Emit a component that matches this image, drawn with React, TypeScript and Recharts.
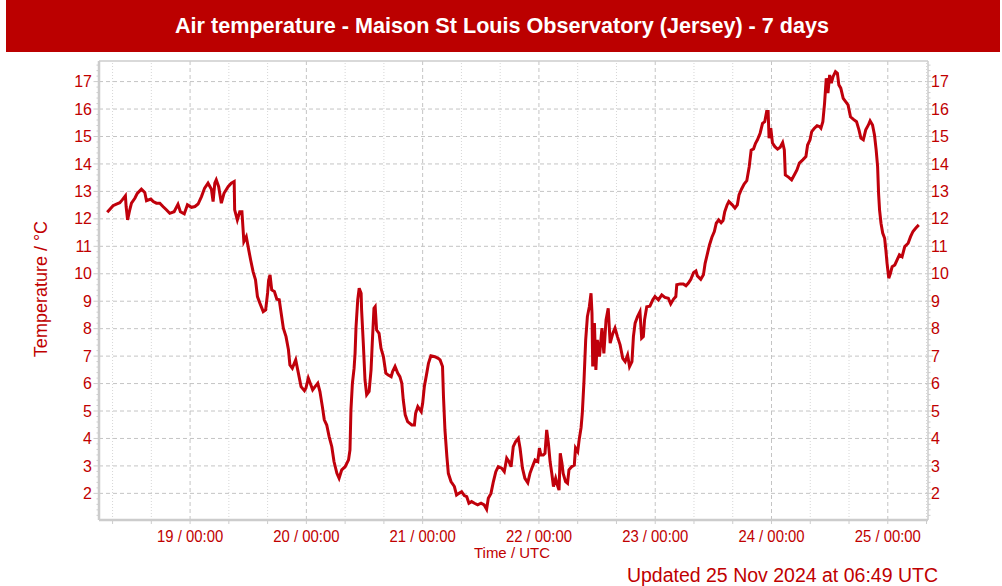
import { LineChart, Line, XAxis, YAxis, ReferenceLine } from 'recharts';

// hours since 18 Nov 2024 00:00 UTC, air temperature °C
const day18: [number, number][] = [
  [6.9, 12.24], [8.1, 12.48], [8.8, 12.54], [9.5, 12.59], [10.0, 12.69], [10.65, 12.84],
  [10.8, 12.45], [11.1, 11.96], [11.55, 12.33], [11.9, 12.57], [12.6, 12.75], [13.1, 12.93],
  [13.95, 13.08], [14.65, 12.96], [15.0, 12.66], [15.9, 12.72], [16.4, 12.63], [17.05, 12.57],
  [17.75, 12.57], [18.4, 12.45], [19.1, 12.33], [19.8, 12.2], [20.7, 12.26], [21.5, 12.53],
  [22.0, 12.26], [22.8, 12.18], [23.45, 12.51],
];
const day19: [number, number][] = [
  [24.3, 12.42], [25.0, 12.45], [25.65, 12.54], [26.35, 12.81], [27.0, 13.12], [27.7, 13.3],
  [28.4, 13.08], [28.75, 12.63], [29.1, 13.3], [29.4, 13.42], [29.9, 13.17], [30.45, 12.57],
  [31.0, 12.93], [31.85, 13.17], [32.5, 13.3], [33.1, 13.36], [33.2, 12.33], [33.75, 11.96],
  [34.25, 12.26], [34.7, 12.26], [35.1, 11.17], [35.6, 11.35], [36.1, 10.87], [36.5, 10.5],
  [37.0, 10.08], [37.5, 9.78], [37.9, 9.17], [38.4, 8.93], [39.1, 8.62], [39.6, 8.68],
  [40.0, 9.3], [40.2, 9.75], [40.5, 9.96], [40.85, 9.41], [41.4, 9.35], [41.9, 9.07],
  [42.4, 9.05], [42.8, 8.56], [43.25, 8.02], [43.8, 7.71], [44.3, 7.23], [44.6, 6.68],
  [45.1, 6.56], [45.8, 6.86], [46.35, 6.38], [46.9, 5.89], [47.6, 5.74], [47.9, 5.83],
];
const day20: [number, number][] = [
  [48.4, 6.2], [48.8, 6.01], [49.3, 5.77], [49.8, 5.89], [50.35, 6.01], [50.8, 5.71],
  [51.3, 5.16], [51.7, 4.68], [52.2, 4.49], [52.7, 4.07], [53.25, 3.7], [53.7, 3.16],
  [54.3, 2.73], [54.75, 2.55], [55.3, 2.86], [56.0, 2.97], [56.7, 3.22], [57.0, 3.58],
  [57.2, 5.04], [57.5, 6.01], [57.85, 6.56], [58.05, 7.1], [58.25, 8.07], [58.6, 9.05],
  [58.9, 9.47], [59.3, 9.29], [59.4, 8.68], [59.75, 7.47], [60.1, 6.13], [60.45, 5.59],
  [60.95, 5.71], [61.35, 6.5], [61.6, 7.47], [61.95, 8.74], [62.2, 8.8], [62.5, 7.95],
  [63.0, 7.83], [63.4, 7.29], [63.9, 6.98], [64.4, 6.38], [64.9, 6.31], [65.5, 6.25],
  [65.8, 6.44], [66.3, 6.62], [66.85, 6.38], [67.3, 6.25], [67.7, 6.01], [68.0, 5.4],
  [68.4, 4.86], [68.9, 4.61], [69.75, 4.49], [70.3, 4.49], [70.55, 4.92], [71.0, 5.16],
  [71.7, 4.98],
];
const day21: [number, number][] = [
  [72.0, 5.28], [72.35, 5.89], [72.85, 6.38], [73.2, 6.74], [73.7, 7.01], [74.5, 6.98],
  [75.2, 6.92], [75.6, 6.86], [76.1, 6.62], [76.3, 5.52], [76.6, 4.31], [77.0, 3.34],
  [77.3, 2.73], [77.85, 2.43], [78.55, 2.25], [79.0, 1.94], [79.5, 2.0], [80.05, 2.06],
  [80.6, 1.92], [81.1, 1.88], [81.55, 1.64], [82.1, 1.7], [82.7, 1.64], [83.35, 1.58],
  [84.05, 1.64], [84.7, 1.58], [85.2, 1.42], [85.55, 1.82], [86.1, 2.0], [86.6, 2.43],
  [87.1, 2.79], [87.6, 2.97], [88.3, 2.92], [88.85, 2.79], [89.35, 3.28], [89.8, 3.16],
  [90.25, 2.97], [90.7, 3.7], [91.2, 3.89], [91.75, 4.01], [92.1, 3.65], [92.6, 2.92],
  [93.1, 2.55], [93.7, 2.39], [94.15, 2.73], [94.65, 2.97], [95.2, 3.22], [95.75, 3.16],
];
const day22: [number, number][] = [
  [96.1, 3.65], [96.4, 3.4], [96.9, 3.4], [97.25, 3.46], [97.6, 4.31], [97.95, 3.83],
  [98.3, 3.16], [98.65, 2.73], [99.0, 2.25], [99.45, 2.55], [99.9, 2.25], [100.15, 2.12],
  [100.4, 3.46], [100.75, 3.1], [101.0, 2.73], [101.5, 2.43], [101.9, 2.37], [102.2, 2.86],
  [102.75, 2.97], [103.3, 3.03], [103.55, 3.65], [104.0, 3.52], [104.3, 3.95], [104.7, 4.4],
  [104.95, 4.92], [105.3, 6.1], [105.65, 7.59], [106.0, 8.44], [106.4, 8.8], [106.75, 9.29],
  [106.95, 8.56], [107.1, 6.62], [107.45, 8.2], [107.75, 6.5], [108.05, 7.59], [108.5, 6.98],
  [109.0, 8.02], [109.4, 7.1], [109.85, 8.32], [110.3, 8.74], [110.7, 7.47], [111.25, 7.83],
  [111.7, 8.02], [112.2, 7.71], [112.75, 7.41], [113.3, 6.92], [113.8, 6.8], [114.3, 7.04],
  [114.7, 6.62], [115.2, 6.8], [115.5, 7.71], [115.85, 8.2], [116.35, 8.44], [116.85, 8.62],
  [117.2, 7.65], [117.55, 7.71], [117.8, 8.32], [118.25, 8.8], [118.9, 8.82], [119.5, 9.05],
  [119.95, 9.17],
];
const day23: [number, number][] = [
  [120.65, 9.05], [121.35, 9.23], [122.0, 9.14], [122.7, 9.11], [123.2, 8.9], [123.75, 9.07],
  [124.25, 9.17], [124.45, 9.6], [125.15, 9.63], [125.8, 9.63], [126.35, 9.56], [126.85, 9.66],
  [127.35, 9.8], [127.9, 10.04], [128.4, 10.1], [128.7, 9.92], [129.4, 9.8], [129.95, 9.96],
  [130.3, 10.38], [130.8, 10.75], [131.2, 11.05], [131.7, 11.33], [132.2, 11.54], [132.6, 11.84],
  [133.1, 11.96], [133.6, 11.86], [134.0, 11.94], [134.35, 12.26], [134.85, 12.51], [135.2, 12.63],
  [135.9, 12.51], [136.45, 12.39], [136.95, 12.51], [137.3, 12.87], [137.8, 13.08], [138.35, 13.27],
  [138.9, 13.39], [139.4, 13.9], [139.8, 14.5], [140.3, 14.55], [140.7, 14.75], [141.1, 14.88],
  [141.65, 15.12], [142.15, 15.48], [142.6, 15.54], [143.0, 15.91], [143.3, 15.91], [143.5, 14.94],
  [143.85, 15.3],
];
const day24: [number, number][] = [
  [144.2, 14.76], [144.7, 14.63], [145.25, 14.54], [145.8, 14.61], [146.3, 14.78], [146.65, 14.51],
  [146.85, 13.6], [147.5, 13.52], [148.15, 13.42], [148.7, 13.6], [149.25, 13.78], [149.75, 14.03],
  [150.45, 14.15], [151.1, 14.27], [151.45, 14.69], [151.95, 14.88], [152.3, 15.18], [152.85, 15.3],
  [153.4, 15.39], [153.9, 15.36], [154.2, 15.3], [154.6, 15.54], [154.95, 16.21], [155.3, 17.12],
  [155.65, 16.58], [156.0, 17.24], [156.35, 16.94], [156.7, 17.18], [157.2, 17.36], [157.6, 17.3],
  [157.9, 16.88], [158.3, 16.76], [158.8, 16.39], [159.3, 16.27], [159.8, 16.15], [160.3, 15.72],
  [160.85, 15.63], [161.55, 15.54], [162.05, 15.24], [162.45, 14.94], [162.95, 14.88], [163.45, 15.24],
  [164.0, 15.42], [164.35, 15.57], [164.85, 15.42], [165.25, 15.06], [165.6, 14.51], [165.9, 13.9],
  [166.1, 12.93], [166.3, 12.33], [166.6, 11.84], [166.95, 11.48], [167.35, 11.29], [167.6, 10.87],
  [167.85, 10.38],
];
const day25: [number, number][] = [
  [168.2, 9.84], [168.55, 10.02], [168.9, 10.26], [169.45, 10.32], [169.9, 10.5], [170.4, 10.69],
  [170.95, 10.62], [171.5, 10.99], [172.2, 11.11], [172.7, 11.35], [173.2, 11.54], [173.75, 11.66],
  [174.4, 11.78],
];

const dayTicks = [24, 48, 72, 96, 120, 144, 168];
const dayLabels = ['19 / 00:00', '20 / 00:00', '21 / 00:00', '22 / 00:00', '23 / 00:00', '24 / 00:00', '25 / 00:00'];
const eightHourTicks = [8, 16, 24, 32, 40, 48, 56, 64, 72, 80, 88, 96, 104, 112, 120, 128, 136, 144, 152, 160, 168, 176];
const tempTicks = [2, 3, 4, 5, 6, 7, 8, 9, 10, 11, 12, 13, 14, 15, 16, 17];

const data = [...day18, ...day19, ...day20, ...day21, ...day22, ...day23, ...day24, ...day25].map(
  ([h, t]) => ({ h, t })
);

const xDomain = [5.2, 176.3];
const yDomain = [1.03, 17.75];

// minor y ticks every 0.2 °C
const yTicks: number[] = [];
for (let v = 12; v <= 176; v += 2) yTicks.push(v / 10);

const RED = '#c00000';
const LINE = '#c0000b';
const AXIS = '#cccccc';
const GRID = '#c4c4c4';
const FONT = "'Liberation Sans', Arial, Helvetica, sans-serif";

const isMajor = (v: number) => tempTicks.includes(Math.round(v * 10) / 10);

const LeftTick = (props: any) => {
  const { x, y, payload } = props;
  const major = isMajor(payload.value);
  return (
    <g>
      <line x1={x - (major ? 5.5 : 2.5)} x2={x} y1={y} y2={y} stroke={AXIS} />
      {major && (
        <text x={x - 7} y={y + 5.6} textAnchor="end" fill={RED} fontSize={16} fontFamily={FONT}>
          {payload.value}
        </text>
      )}
    </g>
  );
};

const RightTick = (props: any) => {
  const { x, y, payload } = props;
  const major = isMajor(payload.value);
  return (
    <g>
      <line x1={x} x2={x + (major ? 5 : 2.5)} y1={y} y2={y} stroke={AXIS} />
      {major && (
        <text x={x + 3} y={y + 5.6} textAnchor="start" fill={RED} fontSize={16} fontFamily={FONT}>
          {payload.value}
        </text>
      )}
    </g>
  );
};

const BottomTick = (props: any) => {
  const { x, y, payload } = props;
  const i = dayTicks.indexOf(payload.value);
  return (
    <g>
      <line x1={x} x2={x} y1={y} y2={y + 4} stroke={AXIS} />
      {i >= 0 && (
        <text
          transform={`translate(${x},${y + 21.7}) scale(0.93,1)`}
          textAnchor="middle"
          fill={RED}
          fontSize={16}
          fontFamily={FONT}
        >
          {dayLabels[i]}
        </text>
      )}
    </g>
  );
};

export default function App() {
  return (
    <div style={{ position: 'absolute', left: 0, top: 0, width: 1002, height: 586, background: '#fff' }}>
      <div style={{ position: 'absolute', left: 6, top: 0, width: 994, height: 52, background: '#bb0000' }} />
      <div style={{ position: 'absolute', left: 0, top: 0 }}>
        <LineChart width={1002} height={586} data={data} margin={{ top: 61, right: 24, bottom: 36, left: 49 }}>
          {tempTicks.map((v) => (
            <ReferenceLine key={'hy' + v} yAxisId="left" y={v} stroke={GRID} strokeDasharray="4 3" />
          ))}
          {eightHourTicks
            .filter((v) => !dayTicks.includes(v) && v < xDomain[1])
            .map((v) => (
              <ReferenceLine key={'mx' + v} yAxisId="left" x={v} stroke="#d6d6d6" strokeDasharray="1 2" />
            ))}
          {dayTicks.map((v) => (
            <ReferenceLine key={'dx' + v} yAxisId="left" x={v} stroke={GRID} strokeDasharray="4 3" />
          ))}
          <ReferenceLine yAxisId="left" y={yDomain[1]} stroke={AXIS} strokeWidth={1.5} />
          <XAxis
            dataKey="h"
            type="number"
            domain={xDomain}
            allowDataOverflow
            ticks={eightHourTicks}
            interval={0}
            tick={<BottomTick />}
            tickLine={false}
            tickSize={0}
            tickMargin={0}
            axisLine={{ stroke: AXIS, strokeWidth: 2.5 }}
            height={30}
          />
          <YAxis
            yAxisId="left"
            orientation="left"
            type="number"
            domain={yDomain}
            allowDataOverflow
            ticks={yTicks}
            interval={0}
            tick={<LeftTick />}
            tickLine={false}
            tickSize={0}
            tickMargin={0}
            axisLine={{ stroke: AXIS, strokeWidth: 2.5 }}
            width={50}
          />
          <YAxis
            yAxisId="right"
            orientation="right"
            type="number"
            domain={yDomain}
            allowDataOverflow
            ticks={yTicks}
            interval={0}
            tick={<RightTick />}
            tickLine={false}
            tickSize={0}
            tickMargin={0}
            axisLine={{ stroke: AXIS, strokeWidth: 1.5 }}
            width={50}
          />
          <Line
            yAxisId="left"
            type="linear"
            dataKey="t"
            stroke={LINE}
            strokeWidth={3}
            dot={false}
            isAnimationActive={false}
          />
        </LineChart>
      </div>
      <svg width={1002} height={586} style={{ position: 'absolute', left: 0, top: 0, pointerEvents: 'none' }}>
        <text x={502} y={33} textAnchor="middle" fill="#ffffff" fontSize={21.6} fontWeight="bold" fontFamily={FONT}>
          Air temperature - Maison St Louis Observatory (Jersey) - 7 days
        </text>
        <text
          transform="translate(47,289) rotate(-90)"
          textAnchor="middle"
          fill={RED}
          fontSize={18}
          fontFamily={FONT}
        >
          Temperature / °C
        </text>
        <text x={512} y={558} textAnchor="middle" fill={RED} fontSize={15} fontFamily={FONT}>
          Time / UTC
        </text>
        <text x={938} y={582} textAnchor="end" fill={RED} fontSize={19.5} fontFamily={FONT}>
          Updated 25 Nov 2024 at 06:49 UTC
        </text>
      </svg>
    </div>
  );
}
